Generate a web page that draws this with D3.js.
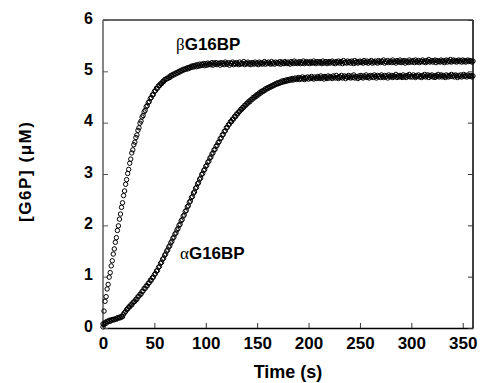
<!DOCTYPE html>
<html>
<head>
<meta charset="utf-8">
<script src="https://cdn.jsdelivr.net/npm/d3@7.9.0/dist/d3.min.js"></script>
<style>
  body { margin: 0; background: #fff; }
  svg text { font-family: "Liberation Sans", Arial, sans-serif; font-weight: bold; fill: #000; }
</style>
</head>
<body>
<svg id="chart" width="480" height="383"></svg>
<script>
// sampled once per second, t = 0..360 s
const betaG6P = [
  0.08, 0.33, 0.52, 0.61, 0.76, 0.85, 0.99, 1.08, 1.21, 1.31,
  1.44, 1.54, 1.67, 1.76, 1.90, 1.99, 2.12, 2.22, 2.35, 2.44,
  2.58, 2.67, 2.80, 2.89, 3.01, 3.09, 3.21, 3.29, 3.41, 3.47,
  3.57, 3.62, 3.71, 3.76, 3.85, 3.90, 3.99, 4.03, 4.11, 4.14,
  4.21, 4.24, 4.31, 4.33, 4.39, 4.41, 4.47, 4.49, 4.54, 4.55,
  4.61, 4.62, 4.67, 4.67, 4.72, 4.72, 4.76, 4.76, 4.80, 4.80,
  4.84, 4.84, 4.86, 4.86, 4.89, 4.88, 4.92, 4.91, 4.94, 4.93,
  4.96, 4.95, 4.98, 4.97, 5.00, 4.99, 5.02, 5.01, 5.04, 5.03,
  5.05, 5.04, 5.07, 5.05, 5.08, 5.07, 5.10, 5.08, 5.11, 5.09,
  5.12, 5.09, 5.13, 5.10, 5.14, 5.11, 5.14, 5.12, 5.15, 5.11,
  5.15, 5.12, 5.16, 5.13, 5.15, 5.13, 5.17, 5.12, 5.16, 5.14,
  5.17, 5.13, 5.15, 5.16, 5.12, 5.17, 5.14, 5.16, 5.13, 5.18,
  5.15, 5.14, 5.17, 5.12, 5.16, 5.15, 5.18, 5.13, 5.16, 5.14,
  5.17, 5.15, 5.13, 5.18, 5.14, 5.16, 5.15, 5.19, 5.13, 5.16,
  5.15, 5.18, 5.14, 5.16, 5.13, 5.17, 5.16, 5.14, 5.18, 5.15,
  5.16, 5.13, 5.18, 5.15, 5.17, 5.14, 5.16, 5.19, 5.14, 5.17,
  5.15, 5.18, 5.16, 5.14, 5.19, 5.15, 5.17, 5.14, 5.18, 5.16,
  5.17, 5.15, 5.19, 5.14, 5.18, 5.16, 5.15, 5.19, 5.17, 5.15,
  5.18, 5.16, 5.14, 5.19, 5.17, 5.15, 5.20, 5.16, 5.18, 5.15,
  5.17, 5.19, 5.15, 5.18, 5.16, 5.20, 5.15, 5.17, 5.19, 5.16,
  5.18, 5.15, 5.19, 5.17, 5.16, 5.20, 5.17, 5.15, 5.19, 5.18,
  5.16, 5.19, 5.17, 5.15, 5.20, 5.16, 5.18, 5.19, 5.15, 5.17,
  5.19, 5.16, 5.18, 5.20, 5.16, 5.18, 5.15, 5.19, 5.17, 5.20,
  5.16, 5.18, 5.19, 5.15, 5.21, 5.17, 5.18, 5.16, 5.20, 5.17,
  5.19, 5.16, 5.20, 5.18, 5.15, 5.21, 5.17, 5.19, 5.16, 5.18,
  5.20, 5.17, 5.19, 5.16, 5.21, 5.18, 5.17, 5.20, 5.16, 5.19,
  5.18, 5.21, 5.16, 5.19, 5.17, 5.20, 5.18, 5.16, 5.21, 5.19,
  5.17, 5.20, 5.18, 5.22, 5.16, 5.19, 5.18, 5.21, 5.17, 5.19,
  5.20, 5.17, 5.22, 5.18, 5.19, 5.16, 5.21, 5.19, 5.18, 5.22,
  5.17, 5.20, 5.18, 5.21, 5.16, 5.20, 5.19, 5.17, 5.22, 5.18,
  5.20, 5.18, 5.21, 5.17, 5.22, 5.19, 5.18, 5.21, 5.17, 5.20,
  5.19, 5.22, 5.18, 5.20, 5.17, 5.21, 5.19, 5.23, 5.18, 5.20,
  5.21, 5.18, 5.20, 5.22, 5.17, 5.21, 5.19, 5.20, 5.18, 5.22,
  5.19, 5.21, 5.17, 5.20, 5.22, 5.18, 5.21, 5.19, 5.23, 5.18,
  5.20, 5.22, 5.19, 5.21, 5.18, 5.20, 5.22, 5.19, 5.21, 5.18,
  5.22, 5.19, 5.21, 5.18, 5.20, 5.22, 5.19, 5.21, 5.20, 5.18,
  5.20
];

const alphaG6P = [
  0.02, 0.07, 0.11, 0.09, 0.13, 0.12, 0.15, 0.13, 0.16, 0.15,
  0.17, 0.16, 0.18, 0.17, 0.20, 0.19, 0.21, 0.20, 0.23, 0.22,
  0.27, 0.30, 0.32, 0.36, 0.37, 0.41, 0.41, 0.45, 0.45, 0.49,
  0.51, 0.52, 0.56, 0.56, 0.61, 0.62, 0.66, 0.66, 0.71, 0.72,
  0.77, 0.77, 0.82, 0.82, 0.87, 0.88, 0.93, 0.93, 0.98, 0.99,
  1.04, 1.06, 1.11, 1.12, 1.18, 1.20, 1.26, 1.28, 1.34, 1.36,
  1.42, 1.44, 1.50, 1.52, 1.58, 1.60, 1.66, 1.69, 1.75, 1.77,
  1.83, 1.85, 1.91, 1.94, 2.00, 2.02, 2.09, 2.11, 2.18, 2.20,
  2.27, 2.29, 2.36, 2.38, 2.45, 2.47, 2.54, 2.56, 2.63, 2.65,
  2.72, 2.74, 2.81, 2.83, 2.90, 2.92, 2.99, 3.01, 3.07, 3.09,
  3.15, 3.17, 3.23, 3.25, 3.31, 3.33, 3.39, 3.41, 3.47, 3.48,
  3.54, 3.56, 3.61, 3.63, 3.69, 3.70, 3.76, 3.77, 3.83, 3.84,
  3.90, 3.91, 3.96, 3.97, 4.02, 4.02, 4.07, 4.07, 4.12, 4.12,
  4.17, 4.17, 4.21, 4.22, 4.26, 4.26, 4.30, 4.30, 4.34, 4.34,
  4.38, 4.38, 4.42, 4.41, 4.45, 4.45, 4.49, 4.48, 4.52, 4.51,
  4.55, 4.54, 4.58, 4.57, 4.61, 4.60, 4.63, 4.62, 4.66, 4.65,
  4.68, 4.67, 4.70, 4.69, 4.72, 4.71, 4.74, 4.73, 4.76, 4.75,
  4.78, 4.76, 4.79, 4.78, 4.81, 4.79, 4.82, 4.80, 4.83, 4.81,
  4.84, 4.82, 4.85, 4.83, 4.86, 4.83, 4.85, 4.87, 4.84, 4.86,
  4.88, 4.84, 4.87, 4.85, 4.89, 4.86, 4.84, 4.88, 4.86, 4.89,
  4.85, 4.88, 4.86, 4.90, 4.87, 4.85, 4.89, 4.87, 4.86, 4.90,
  4.88, 4.86, 4.91, 4.87, 4.89, 4.85, 4.90, 4.88, 4.86, 4.91,
  4.87, 4.90, 4.88, 4.86, 4.91, 4.89, 4.87, 4.92, 4.88, 4.86,
  4.90, 4.88, 4.92, 4.87, 4.89, 4.91, 4.86, 4.90, 4.88, 4.92,
  4.89, 4.87, 4.91, 4.88, 4.93, 4.87, 4.90, 4.89, 4.86, 4.91,
  4.88, 4.92, 4.89, 4.87, 4.91, 4.89, 4.93, 4.88, 4.90, 4.87,
  4.92, 4.89, 4.91, 4.88, 4.93, 4.90, 4.87, 4.92, 4.89, 4.91,
  4.88, 4.93, 4.90, 4.88, 4.92, 4.89, 4.91, 4.87, 4.93, 4.90,
  4.89, 4.92, 4.88, 4.91, 4.90, 4.94, 4.88, 4.91, 4.89, 4.92,
  4.90, 4.88, 4.93, 4.89, 4.91, 4.88, 4.92, 4.90, 4.94, 4.89,
  4.91, 4.89, 4.93, 4.90, 4.88, 4.92, 4.90, 4.93, 4.89, 4.91,
  4.88, 4.92, 4.90, 4.94, 4.89, 4.91, 4.93, 4.88, 4.92, 4.90,
  4.93, 4.89, 4.91, 4.88, 4.92, 4.90, 4.94, 4.89, 4.91, 4.93,
  4.89, 4.92, 4.90, 4.88, 4.93, 4.91, 4.89, 4.92, 4.90, 4.94,
  4.90, 4.92, 4.89, 4.93, 4.91, 4.88, 4.92, 4.90, 4.93, 4.89,
  4.91, 4.94, 4.90, 4.92, 4.89, 4.93, 4.91, 4.90, 4.92, 4.89,
  4.91
];

const xTicks = [0, 50, 100, 150, 200, 250, 300, 350];
const yTicks = [0, 1, 2, 3, 4, 5, 6];

const svg = d3.select('#chart');
const plotLeft = 103, plotRight = 473, plotTop = 20, plotBottom = 328;

let x = d3.scaleLinear().domain([0, 360]).range([plotLeft, plotRight]);
let y = d3.scaleLinear().domain([0, 6]).range([plotBottom, plotTop]);

// frame
svg.append('line').attr('x1', plotLeft).attr('x2', plotRight).attr('y1', plotTop).attr('y2', plotTop)
  .attr('stroke', '#666').attr('stroke-width', 2);
svg.append('line').attr('x1', plotRight).attr('x2', plotRight).attr('y1', plotTop).attr('y2', plotBottom)
  .attr('stroke', '#111').attr('stroke-width', 1.6);
svg.append('line').attr('x1', plotLeft).attr('x2', plotLeft).attr('y1', plotTop).attr('y2', plotBottom)
  .attr('stroke', '#666').attr('stroke-width', 1.6);

// axes with inward ticks
let xAxis = svg.append('g').attr('transform', `translate(0,${plotBottom})`)
  .call(d3.axisBottom(x).tickValues(xTicks).tickSizeInner(-5).tickSizeOuter(0).tickPadding(9));
xAxis.select('.domain').attr('stroke', '#000').attr('stroke-width', 1.6);
xAxis.selectAll('.tick line').attr('stroke', '#333');
xAxis.selectAll('text').style('font-size', '17px');

let yAxis = svg.append('g').attr('transform', `translate(${plotLeft},0)`)
  .call(d3.axisLeft(y).tickValues(yTicks).tickFormat(d3.format('d'))
    .tickSizeInner(-5).tickSizeOuter(0).tickPadding(10));
yAxis.select('.domain').remove();
yAxis.selectAll('.tick line').attr('stroke', '#555');
yAxis.selectAll('text').style('font-size', '16px').attr('dy', '0.2em');

let yAxisRight = svg.append('g').attr('transform', `translate(${plotRight},0)`)
  .call(d3.axisRight(y).tickValues(yTicks).tickSizeInner(-5).tickSizeOuter(0).tickFormat(''));
yAxisRight.select('.domain').remove();
yAxisRight.selectAll('.tick line').attr('stroke', '#333');

// points
function drawSeries(values) {
  svg.append('g')
    .selectAll('circle')
    .data(values)
    .join('circle')
    .attr('cx', (d, i) => x(i))
    .attr('cy', (d) => y(d))
    .attr('r', 2.2)
    .attr('fill', 'none')
    .attr('stroke', '#000')
    .attr('stroke-width', 1);
}
drawSeries(alphaG6P);
drawSeries(betaG6P);

// labels
let bLabel = svg.append('text').attr('x', 176).attr('y', 50).style('font-size', '17px');
bLabel.append('tspan').text('β').style('font-family', '"Liberation Serif", serif').style('font-weight', 'normal');
bLabel.append('tspan').text('G16BP');

let aLabel = svg.append('text').attr('x', 180).attr('y', 259).style('font-size', '17px');
aLabel.append('tspan').text('α').style('font-family', '"Liberation Serif", serif').style('font-weight', 'normal');
aLabel.append('tspan').text('G16BP');

svg.append('text')
  .attr('x', (plotLeft + plotRight) / 2).attr('y', 378)
  .attr('text-anchor', 'middle')
  .style('font-size', '18px')
  .text('Time (s)');

svg.append('text')
  .attr('transform', 'translate(31,172) rotate(-90)')
  .attr('text-anchor', 'middle')
  .attr('textLength', 100)
  .attr('lengthAdjust', 'spacing')
  .style('font-size', '17px')
  .text('[G6P] (μM)');
</script>
</body>
</html>
